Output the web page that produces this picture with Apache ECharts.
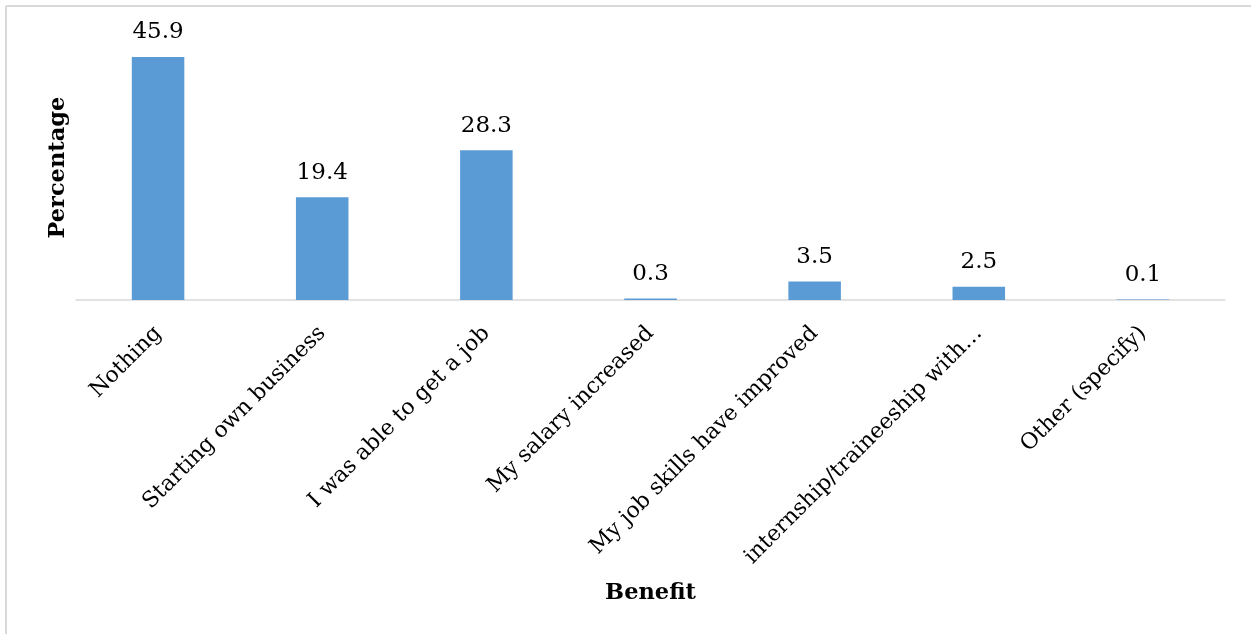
<!DOCTYPE html>
<html>
<head>
<meta charset="utf-8">
<script src="https://cdn.jsdelivr.net/npm/echarts@6/dist/echarts.min.js"></script>
<style>
  html, body { margin: 0; padding: 0; background: #fff; }
  #chart { width: 1251px; height: 634px; }
</style>
</head>
<body>
<div id="chart"></div>
<script>
// Benefits reported by respondents (percent)
const categories = [
  'Nothing',
  'Starting own business',
  'I was able to get a job',
  'My salary increased',
  'My job skills have improved',
  'internship/traineeship with\u2026',
  'Other (specify)'
];
const percentages = [45.9, 19.4, 28.3, 0.3, 3.5, 2.5, 0.1];

const FONT = 'DejaVu Serif';

const chart = echarts.init(document.getElementById('chart'), null, { renderer: 'canvas' });

chart.setOption({
  backgroundColor: '#ffffff',
  animation: false,
  textStyle: { fontFamily: FONT },
  graphic: [
    // frame: top and left edges
    { type: 'line', shape: { x1: 6, y1: 6, x2: 1251, y2: 6 },
      style: { stroke: '#d9d9d9', lineWidth: 2 } },
    { type: 'line', shape: { x1: 6, y1: 6, x2: 6, y2: 634 },
      style: { stroke: '#d9d9d9', lineWidth: 2 } }
  ],
  grid: { left: 76, right: 26, top: 35.3, bottom: 334 },
  xAxis: {
    type: 'category',
    data: categories,
    name: 'Benefit',
    nameLocation: 'middle',
    nameGap: 282,
    nameTextStyle: { fontFamily: FONT, fontSize: 22.5, fontWeight: 'bold', color: '#000' },
    axisLine: { lineStyle: { color: '#d9d9d9', width: 1.5 } },
    axisTick: { show: false },
    axisLabel: {
      rotate: 45,
      interval: 0,
      margin: 30,
      fontFamily: FONT,
      fontSize: 22,
      color: '#000'
    }
  },
  yAxis: {
    type: 'value',
    min: 0,
    max: 50,
    name: 'Percentage',
    nameLocation: 'middle',
    nameRotate: 90,
    nameGap: 6,
    nameTextStyle: { fontFamily: FONT, fontSize: 22.5, fontWeight: 'bold', color: '#000' },
    axisLine: { show: false },
    axisTick: { show: false },
    axisLabel: { show: false },
    splitLine: { show: false }
  },
  series: [{
    type: 'bar',
    data: percentages,
    barWidth: '32%',
    itemStyle: { color: '#5b9bd5' },
    label: {
      show: true,
      position: 'top',
      distance: 13,
      fontFamily: FONT,
      fontSize: 23,
      color: '#000',
      formatter: p => p.value.toFixed(1)
    }
  }]
});
</script>
</body>
</html>
